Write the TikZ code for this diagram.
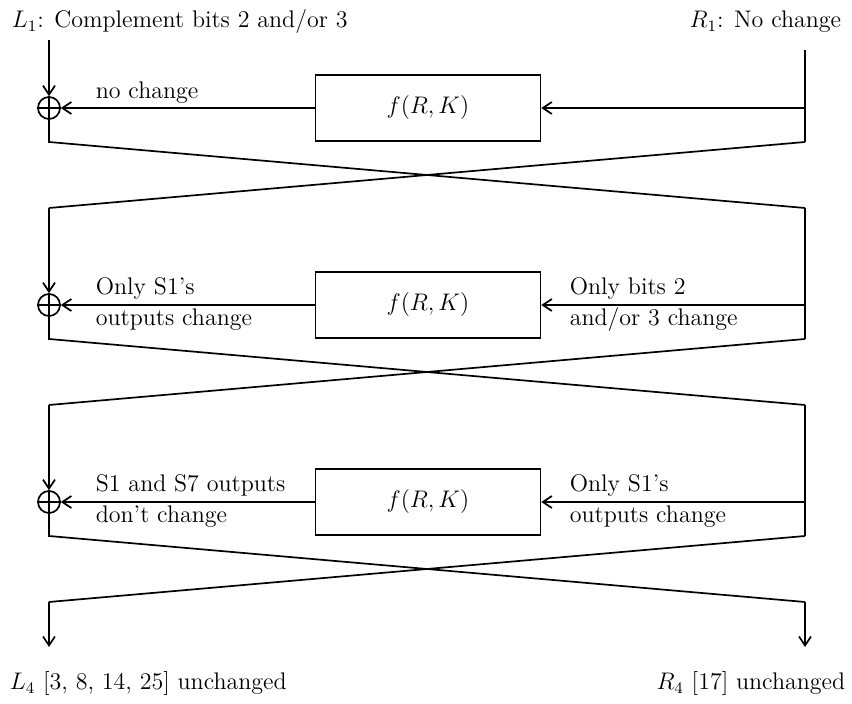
\documentclass[tikz,border=0pt,12pt]{standalone}
\usetikzlibrary{arrows.meta}
\tikzset{
  fbox/.style={draw,minimum width=112.5pt,minimum height=33pt,inner sep=0pt},
  xorsym/.style={draw,circle,minimum size=11pt,inner sep=0pt},
  sig/.style={-{Straight Barb[length=4.5pt,width=6pt]}},
  lbl/.style={anchor=base west,inner sep=0pt},
  rlbl/.style={anchor=base east,inner sep=0pt},
}
\begin{document}
\begin{tikzpicture}[x=0.5pt,y=-0.5pt,line width=0.85pt]
\useasboundingbox (0,0) rectangle (852,704);
% inputs
\node[lbl] (Lin) at (11,28) {$L_1$: Complement bits 2 and/or 3};
\node[rlbl] (Rin) at (842,28) {$R_1$: No change};
\coordinate (ltop) at (49,40);
\coordinate (rtop) at (805,50);
% three rounds
\foreach \i/\y in {1/108,2/305,3/502}{
  \node[fbox] (f\i) at (428,\y) {$f(R,K)$};
  \node[xorsym] (x\i) at (49,\y) {};
  \coordinate (r\i) at (805,\y);
  \coordinate (la\i) at (49,\y+34);
  \coordinate (ra\i) at (805,\y+34);
  \coordinate (lb\i) at (49,\y+100);
  \coordinate (rb\i) at (805,\y+100);
  \draw (x\i.west)--(x\i.east) (x\i.north)--(x\i.south);
  \draw[sig] (r\i)--(f\i.east);
  \draw[sig] (f\i.west)--(x\i.east);
  \draw (x\i.south)--(la\i)--(rb\i);
  \draw (ra\i)--(lb\i);
}
% vertical wires
\draw[sig] (ltop)--(x1.north);
\draw[sig] (lb1)--(x2.north);
\draw[sig] (lb2)--(x3.north);
\draw (rtop)--(ra1);
\draw (rb1)--(ra2);
\draw (rb2)--(ra3);
\coordinate (lout) at (49,647);
\coordinate (rout) at (805,647);
\draw[sig] (lb3)--(lout);
\draw[sig] (rb3)--(rout);
% labels
\node[lbl] (t1) at (95,99) {no change};
\node[lbl] (t2a) at (95,295) {Only S1's};
\node[lbl] (t2b) at (95,326) {outputs change};
\node[lbl] (t2c) at (569,295) {Only bits 2};
\node[lbl] (t2d) at (569,326) {and/or 3 change};
\node[lbl] (t3a) at (95,492) {S1 and S7 outputs};
\node[lbl] (t3b) at (95,523) {don't change};
\node[lbl] (t3c) at (569,492) {Only S1's};
\node[lbl] (t3d) at (569,523) {outputs change};
% outputs
\node[lbl] (Lout) at (9,690) {$L_4$ [3, 8, 14, 25] unchanged};
\node[rlbl] (Rout) at (846,690) {$R_4$ [17] unchanged};
\end{tikzpicture}
\end{document}
